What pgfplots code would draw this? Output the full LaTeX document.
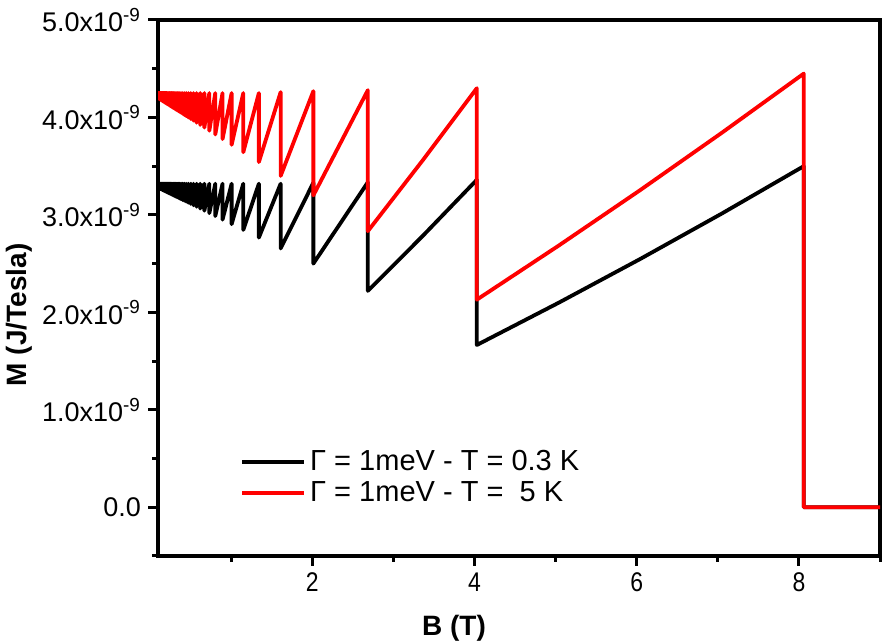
\documentclass[border=0pt]{standalone}
\usepackage{pgfplots}
\pgfplotsset{compat=1.18}
\usepackage{pgfplotstable}
\usepackage{fontspec}
\setmainfont{Liberation Sans}
\usetikzlibrary{calc}

\pgfplotstableread{
B black red
0.0995 3.279 4.198
0.1008 3.32 4.25
0.1008 3.279 4.197
0.1020 3.32 4.25
0.1020 3.278 4.196
0.1033 3.32 4.25
0.1033 3.277 4.196
0.1047 3.32 4.25
0.1047 3.277 4.195
0.1061 3.32 4.25
0.1061 3.276 4.194
0.1075 3.32 4.25
0.1075 3.276 4.193
0.1089 3.32 4.25
0.1089 3.275 4.193
0.1104 3.32 4.25
0.1104 3.275 4.192
0.1119 3.32 4.25
0.1119 3.274 4.191
0.1135 3.32 4.25
0.1135 3.273 4.190
0.1151 3.32 4.25
0.1151 3.273 4.189
0.1168 3.32 4.25
0.1168 3.272 4.188
0.1185 3.32 4.25
0.1185 3.271 4.188
0.1203 3.32 4.25
0.1203 3.270 4.187
0.1221 3.32 4.25
0.1221 3.270 4.186
0.1240 3.32 4.25
0.1240 3.269 4.185
0.1259 3.32 4.25
0.1259 3.268 4.184
0.1279 3.32 4.25
0.1279 3.267 4.183
0.1300 3.32 4.25
0.1300 3.266 4.181
0.1321 3.32 4.25
0.1321 3.266 4.180
0.1343 3.32 4.25
0.1343 3.265 4.179
0.1366 3.32 4.25
0.1366 3.264 4.178
0.1390 3.32 4.25
0.1390 3.263 4.177
0.1414 3.32 4.25
0.1414 3.262 4.175
0.1439 3.32 4.25
0.1439 3.261 4.174
0.1465 3.32 4.25
0.1465 3.260 4.173
0.1493 3.32 4.25
0.1493 3.259 4.171
0.1521 3.32 4.25
0.1521 3.257 4.170
0.1550 3.32 4.25
0.1550 3.256 4.168
0.1580 3.32 4.25
0.1580 3.255 4.167
0.1612 3.32 4.25
0.1612 3.254 4.165
0.1645 3.32 4.25
0.1645 3.252 4.163
0.1679 3.32 4.25
0.1679 3.251 4.161
0.1715 3.32 4.25
0.1715 3.249 4.160
0.1752 3.32 4.25
0.1752 3.248 4.158
0.1791 3.32 4.25
0.1791 3.246 4.156
0.1832 3.32 4.25
0.1832 3.245 4.153
0.1874 3.32 4.25
0.1874 3.243 4.151
0.1919 3.32 4.25
0.1919 3.241 4.149
0.1966 3.32 4.25
0.1966 3.239 4.146
0.2015 3.32 4.25
0.2015 3.237 4.144
0.2067 3.32 4.25
0.2067 3.235 4.141
0.2121 3.32 4.25
0.2121 3.233 4.138
0.2178 3.32 4.25
0.2178 3.230 4.135
0.2239 3.32 4.25
0.2239 3.228 4.132
0.2303 3.32 4.25
0.2303 3.225 4.129
0.2371 3.32 4.25
0.2371 3.222 4.125
0.2442 3.32 4.25
0.2442 3.219 4.121
0.2519 3.32 4.25
0.2519 3.216 4.117
0.2600 3.32 4.25
0.2600 3.213 4.113
0.2687 3.32 4.25
0.2687 3.209 4.108
0.2779 3.32 4.25
0.2779 3.206 4.103
0.2879 3.32 4.25
0.2879 3.201 4.098
0.2985 3.32 4.25
0.2985 3.197 4.093
0.3100 3.32 4.25
0.3100 3.192 4.087
0.3224 3.32 4.25
0.3224 3.187 4.080
0.3358 3.32 4.25
0.3358 3.182 4.073
0.3504 3.32 4.25
0.3504 3.176 4.065
0.3664 3.32 4.25
0.3664 3.169 4.057
0.3838 3.32 4.25
0.3838 3.162 4.048
0.4030 3.32 4.25
0.4030 3.154 4.038
0.4242 3.32 4.25
0.4242 3.145 4.026
0.4478 3.32 4.25
0.4478 3.136 4.014
0.4741 3.32 4.25
0.4741 3.125 4.000
0.5038 3.32 4.25
0.5038 3.113 3.984
0.5373 3.32 4.25
0.5373 3.099 3.967
0.5757 3.32 4.25
0.5757 3.083 3.946
0.6200 3.32 4.25
0.6200 3.065 3.923
0.6717 3.32 4.25
0.6717 3.043 3.896
0.7327 3.32 4.25
0.7327 3.018 3.864
0.8060 3.32 4.25
0.8060 2.988 3.825
0.8956 3.32 4.25
0.8956 2.951 3.778
1.0075 3.32 4.25
1.0075 2.905 3.719
1.1514 3.32 4.25
1.1514 2.846 3.643
1.3433 3.32 4.25
1.3433 2.767 3.542
1.6120 3.32 4.26
1.6120 2.656 3.400
2.0150 3.33 4.27
2.0150 2.500 3.200
2.6867 3.335 4.28
2.6867 2.220 2.833
3.3583 2.780 3.555
4.0300 3.360 4.30
4.0300 1.665 2.130
5.0375 2.098 2.684
6.0450 2.548 3.255
7.0525 3.015 3.844
8.0600 3.500 4.450
8.0600 0 0
9.0000 0 0
}\magdata

\begin{document}
\begin{tikzpicture}
\begin{axis}[
  scale only axis, width=361pt, height=268pt,
  xmin=0.1, xmax=9, ymin=-0.5, ymax=5,
  xtick={2,4,6,8},
  xticklabels={\scalebox{0.85}[1]{2},\scalebox{0.85}[1]{4},\scalebox{0.85}[1]{6},\scalebox{0.85}[1]{8}},
  minor xtick={1,3,5,7,9},
  ytick={0,1,2,3,4,5},
  yticklabels={0.0, 1.0x10\textsuperscript{-9}, 2.0x10\textsuperscript{-9}, 3.0x10\textsuperscript{-9}, 4.0x10\textsuperscript{-9}, 5.0x10\textsuperscript{-9}},
  minor ytick={-0.5,0.5,1.5,2.5,3.5,4.5},
  tick pos=left, tick align=outside,
  major tick length=5pt, minor tick length=3pt,
  every tick/.style={black, line width=1.5pt},
  axis line style={line width=1.6pt},
  xticklabel style={font=\fontsize{13.5}{15}\selectfont},
  yticklabel style={font=\fontsize{13.5}{15}\selectfont},
  xlabel={\textbf{B (T)}},
  ylabel={\textbf{M (J/Tesla)}},
  xlabel style={at={(axis description cs:0.41,-0.1343)}, anchor=center, font=\fontsize{14}{16}\selectfont},
  ylabel style={at={(axis description cs:-0.1925,0.45)}, anchor=center, font=\fontsize{14}{16}\selectfont},
  legend style={draw=none, fill=none, at={(axis description cs:0.1136,0.147)}, anchor=west,
    font=\fontsize{14.5}{16}\selectfont, inner sep=0pt, row sep=0pt},
  legend cell align=left,
  legend image code/.code={\draw[#1, line width=1.9pt] (0pt,0pt) -- (31pt,0pt);},
]
\addplot[black, line width=1.9pt, line join=round, no markers] table[x=B, y=black] {\magdata};
\addlegendentry{Γ = 1meV - T = 0.3 K}
\addplot[red, line width=1.9pt, line join=round, no markers] table[x=B, y=red] {\magdata};
\addlegendentry{Γ = 1meV - T =\ \ 5 K}
\end{axis}
\pgfresetboundingbox
\path[use as bounding box] ($(current axis.south west)+(-79pt,-43pt)$) rectangle ($(current axis.north east)+(1.5pt,10pt)$);
\end{tikzpicture}
\end{document}
